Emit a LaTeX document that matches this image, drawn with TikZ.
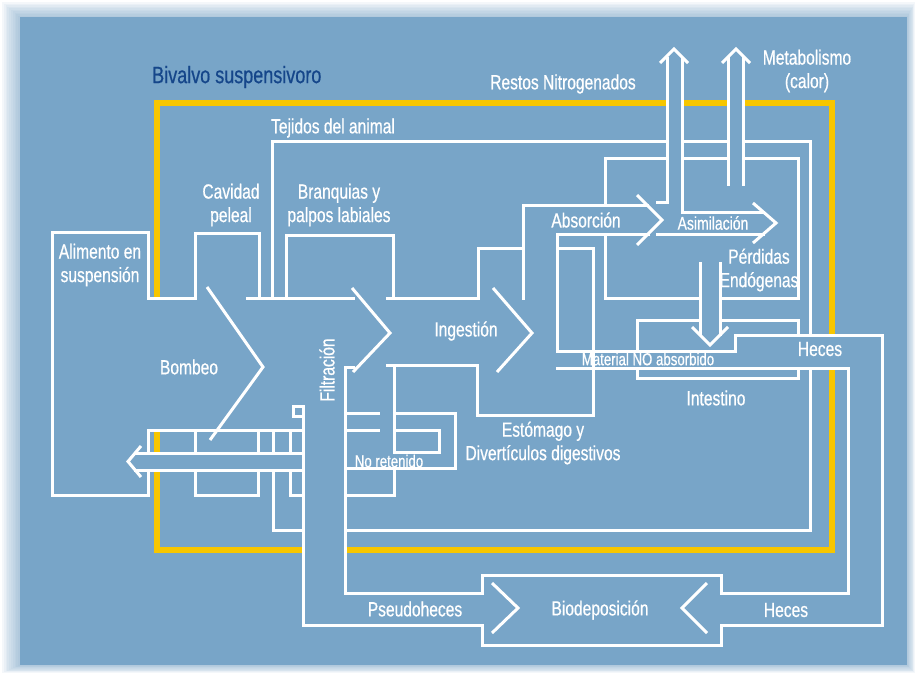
\documentclass[tikz,border=0pt]{standalone}
\usepackage{fontspec}
\setmainfont{Liberation Sans}[FakeStretch=0.76,FakeBold=0.6]
\definecolor{bgblue}{HTML}{78A5C8}
\definecolor{ttl}{HTML}{15468A}
\definecolor{ylw}{HTML}{F7C600}
\begin{document}
\begin{tikzpicture}[x=1pt,y=-1pt,
  wl/.style={white, line width=3pt, line cap=rect, line join=miter},
  chev/.style={white, line width=3pt, line cap=butt, line join=miter},
  yl/.style={ylw, line width=5.5pt, line cap=butt, line join=miter},
  lab/.style={text=white, inner sep=0pt, align=center, font=\fontsize{20.5}{23.5}\selectfont},
  slab/.style={text=white, inner sep=0pt, align=center, font=\fontsize{17.4}{19}\selectfont}]
\useasboundingbox (0,0) rectangle (915,673);
% background
\fill[white] (0,0) rectangle (915,673);
\foreach \i in {1,...,10}{
  \fill[bgblue, opacity=0.08] (20-\i*1.8,17-\i*1.5) rectangle (907+\i*0.8,665+\i*0.8);
}
\fill[bgblue] (20,17) rectangle (907,665);
% yellow frame
\draw[yl] (157,298) -- (157,103) -- (667,103);
\draw[yl] (682,103) -- (728,103);
\draw[yl] (743,103) -- (832,103) -- (832,335);
\draw[yl] (832,368) -- (832,550) -- (345,550);
\draw[yl] (303,550) -- (157,550) -- (157,470);
\draw[yl] (157,453) -- (157,430);
% Alimento box and main channel
\draw[wl] (195,298) -- (148,298) -- (148,232) -- (52,232) -- (52,495) -- (148,495) -- (148,470);
\draw[wl] (195,298) -- (195,233) -- (259,233) -- (259,298);
\draw[wl] (247,298) -- (353,298);
% Tejidos del animal
\draw[wl] (272,298) -- (272,141) -- (667,141);
\draw[wl] (682,141) -- (728,141);
\draw[wl] (743,141) -- (810,141) -- (810,335);
\draw[wl] (810,368) -- (810,530) -- (345,530);
\draw[wl] (273,470) -- (273,530) -- (303,530);
% Branquias
\draw[wl] (286,298) -- (286,235) -- (393,235) -- (393,298);
% Ingestion channel & stomach
\draw[wl] (387,298) -- (478,298) -- (478,248) -- (523,248);
\draw[wl] (523,298) -- (523,205) -- (647,205);
\draw[wl] (648,234) -- (557,234) -- (557,351) -- (735,351) -- (735,335) -- (882,335) -- (882,625) -- (721,625);
\draw[wl] (557,368) -- (848,368) -- (848,593) -- (721,593);
\draw[wl] (557,248) -- (593,248) -- (593,415) -- (477,415) -- (477,365) -- (387,365);
% chevrons
\draw[chev] (207,287) -- (263,367) -- (210,440);
\draw[chev] (352,288) -- (390,333) -- (353,372);
\draw[chev] (493,288) -- (532,333) -- (497,372);
\draw[chev] (637,195) -- (662,220) -- (637,245);
\draw[chev] (753,203) -- (776,223) -- (753,243);
% Asimilacion channel and Restos arrow
\draw[wl] (682,58) -- (682,212) -- (763,212);
\draw[wl] (657,234) -- (763,234);
\draw[wl] (667,58) -- (667,202) -- (657,202);
\draw[chev] (660,63) -- (674,49) -- (688,63);
% Metabolismo arrow
\draw[wl] (728,184) -- (728,57);
\draw[wl] (743,184) -- (743,57);
\draw[chev] (722,63) -- (736,49) -- (750,63);
% Asimilacion box
\draw[wl] (667,158) -- (605,158) -- (605,205);
\draw[wl] (605,234) -- (605,298) -- (700,298);
\draw[wl] (720,298) -- (798,298) -- (798,158) -- (743,158);
\draw[wl] (728,158) -- (682,158);
% Perdidas endogenas arrow
\draw[wl] (700,263) -- (700,334);
\draw[wl] (720,263) -- (720,334);
\draw[chev] (692,327) -- (710,345) -- (728,327);
% Intestine box
\draw[wl] (700,320) -- (637,320) -- (637,351);
\draw[wl] (637,368) -- (637,378) -- (798,378) -- (798,368);
\draw[wl] (798,335) -- (798,320) -- (720,320);
% Biodeposicion box
\draw[wl] (482,593) -- (482,575) -- (721,575) -- (721,593);
\draw[wl] (482,625) -- (482,645) -- (721,645) -- (721,625);
\draw[chev] (492,583) -- (518,608) -- (492,633);
\draw[chev] (707,583) -- (682,608) -- (707,633);
% Filtration / pseudofaeces channel
\draw[wl] (353,367) -- (345,367) -- (345,593) -- (482,593);
\draw[wl] (303,406) -- (303,625) -- (482,625);
\draw[wl] (303,406) -- (293,406) -- (293,416) -- (303,416);
% lower boxes left of filtration
\draw[wl] (148,430) -- (303,430);
\draw[wl] (148,430) -- (148,453);
\foreach \xx in {195,258,273,290}{\draw[wl] (\xx,430) -- (\xx,453);}
\draw[wl] (135,453) -- (303,453);
\draw[wl] (135,470) -- (303,470);
\draw[chev] (141,446) -- (128,461.5) -- (141,477);
\draw[wl] (195,470) -- (195,495) -- (258,495) -- (258,470);
\draw[wl] (290,470) -- (290,495) -- (303,495);
% right of filtration
\draw[wl] (345,413) -- (378,413);
\draw[wl] (345,430) -- (378,430);
\draw[wl] (394,365) -- (394,452);
\draw[wl] (394,469) -- (394,495) -- (345,495);
\draw[wl] (394,413) -- (455,413) -- (455,468) -- (345,468);
\draw[wl] (394,430) -- (439,430) -- (439,452) -- (394,452);
% labels
\node[anchor=west, text=ttl, inner sep=0pt, font=\fontsize{23.7}{26}\selectfont] (title) at (152,77) {Bivalvo suspensivoro};
\node[lab] (restos) at (563,84) {Restos Nitrogenados};
\node[lab] (metab) at (807,71) {Metabolismo\\(calor)};
\node[lab] (tejidos) at (333,128) {Tejidos del animal};
\node[lab] (cavidad) at (231,205) {Cavidad\\peleal};
\node[lab] (branq) at (339,205) {Branquias y\\palpos labiales};
\node[lab] (alim) at (100,265) {Alimento en\\suspensión};
\node[lab] (bombeo) at (189,367) {Bombeo};
\node[lab, rotate=90] (filtr) at (327,370) {Filtración};
\node[lab] (ingest) at (466,331) {Ingestión};
\node[lab] (absor) at (586,220) {Absorción};
\node[lab, font=\fontsize{18.4}{20}\selectfont] (asim) at (713,223) {Asimilación};
\node[lab] (perd) at (759,270) {Pérdidas\\Endógenas};
\node[slab] (matno) at (648,359) {Material NO absorbido};
\node[lab] (heces1) at (820,349) {Heces};
\node[lab] (intest) at (716,398) {Intestino};
\node[lab] (estom) at (543,443) {Estómago y\\Divertículos digestivos};
\node[slab] (noret) at (389,461) {No retenido};
\node[lab] (pseudo) at (415,609) {Pseudoheces};
\node[lab] (biodep) at (600,610) {Biodeposición};
\node[lab] (heces2) at (786,610) {Heces};
\end{tikzpicture}
\end{document}
